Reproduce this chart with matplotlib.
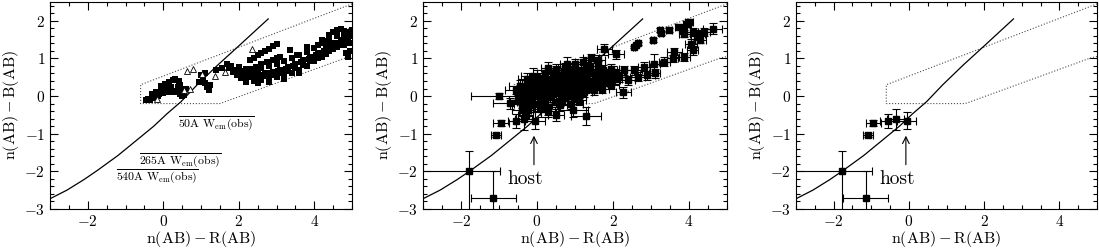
import matplotlib
matplotlib.use('Agg')
import matplotlib.pyplot as plt
from matplotlib.ticker import MultipleLocator

plt.rcParams['font.family'] = ['cmr10', 'DejaVu Serif']
plt.rcParams['mathtext.fontset'] = 'cm'
plt.rcParams['axes.formatter.use_mathtext'] = True
plt.rcParams['axes.unicode_minus'] = True

# model curve
curve_x = [-3.0, -2.55, -2.1, -1.75, -1.2, -0.7, -0.25, 0.1, 0.47, 0.9, 1.45, 2.02, 2.78]
curve_y = [-2.73, -2.5, -2.22, -1.98, -1.58, -1.17, -0.8, -0.47, -0.15, 0.3, 0.83, 1.35, 2.05]

# selection region (dotted)
box_x = [5.0, -0.6, -0.6, 1.5, 4.85, 5.0]
box_y = [2.45, 0.3, -0.2, -0.2, 1.02, 1.05]

# panel 1: model tracks (filled squares) and open triangles
p1_sq_x = [-0.4, -0.3, -0.2, -0.1, 0.0, 0.1, 0.2, 0.3, 0.4, 0.5, 0.6,
           -0.35, -0.25, -0.15, -0.45, -0.3, -0.2, -0.05, 0.05, 0.15,
           -0.05, 0.05, 0.15, 0.25, 0.3, 0.2, 0.0, 0.1,
           0.42, 0.45, 0.47, 0.5, 0.5, 0.45, 0.55, 0.4, 0.35,
           1.0, 1.05, 1.1, 1.15, 1.2, 1.1, 0.95, 1.2, 1.25, 1.05,
           1.4, 1.55, 1.7, 1.8,
           1.75, 1.85, 1.95, 2.05, 2.2, 2.4, 2.6, 2.8, 3.0, 3.2, 3.4, 3.6, 3.8, 4.0, 4.2, 4.4, 4.6, 4.8, 4.95,
           1.9, 2.1, 2.3, 2.5, 2.7, 2.9, 3.1, 3.3, 3.5, 3.7, 3.9, 4.1, 4.3, 4.5, 4.7, 4.9,
           2.0, 2.2, 2.4, 2.6, 2.8, 3.0, 3.2, 3.4, 3.6, 3.8, 4.0, 4.2, 4.4, 4.6, 4.8, 5.0,
           4.2, 4.4, 4.5, 4.6, 4.7, 4.8, 4.9, 5.0,
           2.3, 2.4, 2.5, 2.6, 2.7, 2.8, 2.9, 3.0,
           2.16, 2.3, 2.45, 2.6, 2.75, 2.9, 3.0,
           3.1, 3.35, 3.55, 3.8, 4.1, 4.35, 4.9, 4.95, 4.85,
           2.2, 2.5, 2.8, 3.2, 3.6, 2.0, 2.1,
           2.1, 2.3, 2.5, 2.7, 2.9, 3.1, 3.3, 3.5, 3.7, 3.9, 4.1, 4.3, 4.5, 4.7,
           2.05, 2.25, 2.45, 2.65, 2.85, 3.05, 3.25, 3.45, 3.65, 3.85, 4.05, 4.25, 4.45, 4.65, 4.85]
p1_sq_y = [-0.08, -0.05, 0.0, 0.05, 0.08, 0.1, 0.12, 0.14, 0.15, 0.18, 0.2,
           -0.1, -0.02, 0.0, -0.1, 0.05, 0.1, 0.15, 0.18, 0.22,
           0.28, 0.32, 0.38, 0.42, 0.45, 0.25, 0.22, 0.3,
           0.4, 0.3, 0.2, 0.1, 0.0, 0.05, 0.02, 0.25, 0.12,
           0.55, 0.45, 0.35, 0.25, 0.2, 0.6, 0.38, 0.15, 0.3, 0.5,
           0.7, 0.75, 0.85, 0.8,
           0.75, 0.65, 0.55, 0.48, 0.42, 0.4, 0.42, 0.45, 0.5, 0.55, 0.62, 0.7, 0.8, 0.92, 1.05, 1.2, 1.3, 1.35, 1.4,
           0.7, 0.62, 0.6, 0.6, 0.62, 0.65, 0.7, 0.78, 0.85, 0.95, 1.05, 1.15, 1.3, 1.42, 1.5, 1.55,
           0.78, 0.72, 0.72, 0.75, 0.8, 0.85, 0.92, 1.0, 1.08, 1.18, 1.28, 1.4, 1.52, 1.6, 1.65, 1.6,
           1.5, 1.62, 1.7, 1.75, 1.78, 1.72, 1.7, 1.75,
           0.95, 1.02, 1.08, 1.14, 1.2, 1.26, 1.32, 1.38,
           0.66, 0.72, 0.78, 0.84, 0.9, 0.95, 1.0,
           1.05, 1.22, 1.08, 1.3, 1.35, 1.45, 1.05, 1.2, 1.15,
           0.38, 0.35, 0.38, 0.45, 0.6, 0.62, 0.5,
           0.52, 0.5, 0.5, 0.52, 0.55, 0.6, 0.66, 0.74, 0.82, 0.92, 1.0, 1.12, 1.25, 1.35,
           0.56, 0.55, 0.55, 0.57, 0.6, 0.66, 0.73, 0.8, 0.9, 0.98, 1.08, 1.2, 1.32, 1.42, 1.48]
p1_tri_x = [-0.17, 0.62, 0.78, 0.71, 1.02, 1.37, 1.63, 2.35, 0.55]
p1_tri_y = [-0.08, 0.67, 0.73, 0.18, 0.58, 0.53, 0.64, 1.24, 0.15]

# panel 2: observed objects with errors
p2_x = [-0.99, -0.7, -0.45, -0.38, -0.5, -0.32, -0.55, -0.4, -0.3, -0.11, -0.24,
        -0.2, -0.15, -0.1, -0.05, 0.0, 0.05, 0.1, 0.15, 0.2, 0.25, 0.3, 0.35, 0.4, 0.45,
        0.5, 0.55, 0.6, 0.65, 0.7, 0.75, 0.8, 0.85, 0.9, 0.95, 1.0, 1.05, 1.1, 1.15,
        1.2, 1.25, 1.3, 1.35, 1.4, 1.45, 1.5, 1.55, 1.6, 1.65, 1.7, 1.75, 1.8, 1.9,
        1.95, 2.0, 2.05, 2.15, 0.2, 0.5, 0.0, -0.25, 0.9, 1.1, 0.3, 0.6, 0.1,
        0.94, 1.29, 0.5, 0.28, 0.98, 0.68, 0.5, 0.8, 0.3, 1.2,
        1.77, 2.08, 2.27, 2.55, 2.6, 2.65, 3.04, 3.26, 3.25, 3.48, 3.74, 3.95, 4.0,
        3.88, 4.1, 4.27, 4.4, 4.05, 4.1, 4.62, 3.88, 3.61, 3.57, 3.35, 3.09, 2.82,
        2.56, 2.3, 2.12, 2.39, 2.65, 1.95, 1.6, 1.42, 3.1, 2.9, 4.3, 4.2, 3.85]
p2_y = [0.0, -0.19, 0.28, 0.07, -0.1, -0.15, 0.16, -0.38, -0.5, 0.53, -0.37,
        0.2, -0.05, 0.35, 0.1, -0.2, 0.25, 0.05, 0.4, -0.1, 0.15, 0.3, 0.0, 0.45, 0.2,
        -0.15, 0.35, 0.1, 0.55, 0.25, -0.05, 0.4, 0.15, 0.6, 0.3, 0.05, 0.45, 0.2, 0.7,
        0.35, 0.1, 0.55, 0.25, 0.8, 0.4, 0.15, 0.6, 0.3, 0.5, 0.2, 0.7, 0.4, 0.55,
        0.3, 0.65, 0.45, 0.5, 0.6, 0.7, 0.5, 0.45, -0.2, -0.1, -0.3, -0.25, -0.35,
        -0.37, -0.53, -0.5, -0.41, 0.73, 0.51, 0.64, 0.85, 0.75, 0.9,
        1.24, 1.11, 0.1, 1.3, 1.35, 1.4, 1.48, 1.67, 1.76, 1.76, 1.83, 1.92, 1.97,
        1.66, 1.7, 1.66, 1.7, 1.39, 1.22, 1.79, 1.04, 1.17, 1.0, 0.91, 0.86, 0.78,
        0.69, 0.69, 0.56, 0.42, 0.51, 0.73, 0.95, 1.0, 0.6, 0.55, 1.5, 1.6, 1.75]
p2_xe = [0.75, 0.45, 0.3, 0.2, 0.25, 0.2, 0.3, 0.25, 0.2, 0.3, 0.2,
         0.2, 0.25, 0.2, 0.2, 0.25, 0.15, 0.2, 0.2, 0.2, 0.15, 0.2, 0.2, 0.25, 0.2,
         0.2, 0.2, 0.2, 0.2, 0.2, 0.25, 0.2, 0.2, 0.2, 0.2, 0.2, 0.2, 0.2, 0.25,
         0.2, 0.2, 0.2, 0.2, 0.2, 0.2, 0.2, 0.2, 0.2, 0.2, 0.2, 0.2, 0.2, 0.2,
         0.2, 0.2, 0.2, 0.2, 0.2, 0.2, 0.2, 0.25, 0.3, 0.2, 0.25, 0.2, 0.2,
         0.4, 0.4, 0.2, 0.2, 0.25, 0.2, 0.25, 0.2, 0.2, 0.2,
         0.2, 0.2, 0.2, 0.03, 0.03, 0.03, 0.05, 0.05, 0.05, 0.08, 0.1, 0.1, 0.1,
         0.15, 0.15, 0.15, 0.15, 0.15, 0.15, 0.25, 0.15, 0.2, 0.15, 0.15, 0.15, 0.15,
         0.2, 0.2, 0.2, 0.2, 0.2, 0.2, 0.2, 0.2, 0.15, 0.2, 0.15, 0.15, 0.1]
p2_ye = [0.08, 0.15, 0.15, 0.15, 0.12, 0.12, 0.1, 0.15, 0.15, 0.22, 0.15,
         0.15, 0.2, 0.12, 0.15, 0.2, 0.1, 0.12, 0.15, 0.15, 0.1, 0.12, 0.15, 0.15, 0.12,
         0.15, 0.12, 0.1, 0.15, 0.12, 0.15, 0.12, 0.1, 0.15, 0.12, 0.15, 0.12, 0.12, 0.15,
         0.12, 0.12, 0.15, 0.12, 0.15, 0.12, 0.12, 0.12, 0.12, 0.15, 0.12, 0.12, 0.12, 0.12,
         0.12, 0.15, 0.12, 0.12, 0.15, 0.15, 0.2, 0.15, 0.15, 0.15, 0.2, 0.15, 0.2,
         0.2, 0.25, 0.15, 0.15, 0.15, 0.12, 0.15, 0.2, 0.15, 0.15,
         0.15, 0.12, 0.15, 0.03, 0.03, 0.03, 0.05, 0.05, 0.05, 0.05, 0.05, 0.08, 0.08,
         0.1, 0.1, 0.1, 0.1, 0.12, 0.12, 0.15, 0.1, 0.12, 0.1, 0.12, 0.25, 0.12,
         0.12, 0.12, 0.12, 0.12, 0.12, 0.12, 0.15, 0.12, 0.12, 0.12, 0.1, 0.1, 0.08]

# panel 2: more objects in the dense core
core_x = [-0.1, 0.05, 0.15, 0.2, 0.35, 0.4, 0.45, 0.55, 0.6, 0.7, 0.75, 0.8, 0.85,
          0.95, 1.0, 1.05, 1.1, 1.15, 1.25, 1.3, 1.4, 1.45, 1.55, 1.65, 1.7, 1.85,
          0.25, 0.1, -0.05, 0.0, 0.3, 0.65, 0.9, 1.2, 1.35, 0.55, 0.75, 1.0, 1.6, 1.8,
          -0.35, -0.25, -0.15, -0.4, -0.2]
core_y = [0.0, 0.15, -0.05, 0.3, 0.2, 0.05, 0.5, 0.15, 0.4, 0.6, 0.15, 0.3, 0.5,
          0.1, 0.4, 0.6, 0.0, 0.3, 0.45, 0.2, 0.6, 0.25, 0.45, 0.35, 0.55, 0.5,
          0.45, 0.3, 0.25, 0.05, 0.1, 0.0, 0.0, 0.55, 0.65, 0.55, 0.75, 0.85, 0.8, 0.6,
          0.2, 0.0, -0.25, -0.2, 0.35]
core_xe = [0.2] * 45
core_ye = [0.13] * 45

# the objects shown in panels 2 and 3
sel_x = [-1.08, -0.95, -0.55, -0.35, -0.06, -1.78, -1.15]
sel_y = [-1.04, -0.71, -0.67, -0.62, -0.65, -2.0, -2.72]
sel_xe_lo = [0.13, 0.2, 0.22, 0.22, 0.26, 1.3, 0.6]
sel_xe_hi = [0.13, 0.2, 0.22, 0.22, 0.26, 0.8, 0.6]
sel_ye_lo = [0.06, 0.08, 0.19, 0.27, 0.22, 1.1, 0.5]
sel_ye_hi = [0.06, 0.08, 0.19, 0.27, 0.22, 0.54, 0.72]

# equivalent-width labels (panel 1)
ew_labels = ['50A', '265A', '540A']
ew_x = [0.4, -0.63, -1.26]
ew_y = [-0.71, -1.69, -2.14]

fig = plt.figure(figsize=(10.99, 2.49), dpi=100)
ax1 = fig.add_axes([0.0455, 0.161, 0.2748, 0.831])
ax2 = fig.add_axes([0.3849, 0.161, 0.2766, 0.831])
ax3 = fig.add_axes([0.7243, 0.161, 0.2739, 0.831])

ebkw = dict(fmt='s', color='k', ms=4.2, elinewidth=0.8, capsize=2.8, capthick=0.8, lw=0)

for ax in (ax1, ax2, ax3):
    ax.plot(box_x, box_y, ls=':', color='0.3', lw=0.8)
    ax.plot(curve_x, curve_y, color='k', lw=0.9)
    ax.set_xlim(-3, 5)
    ax.set_ylim(-3, 2.5)
    ax.xaxis.set_major_locator(MultipleLocator(2))
    ax.xaxis.set_minor_locator(MultipleLocator(0.5))
    ax.yaxis.set_major_locator(MultipleLocator(1))
    ax.yaxis.set_minor_locator(MultipleLocator(0.2))
    ax.tick_params(which='both', direction='in', top=True, right=True, width=0.8, labelsize=11)
    ax.tick_params(which='major', length=6)
    ax.tick_params(which='minor', length=3)
    ax.tick_params(axis='x', pad=4)
    for sp in ax.spines.values():
        sp.set_linewidth(0.8)
    ax.set_xlabel(r'$\mathrm{n(AB)-R(AB)}$', fontsize=11.5, labelpad=0)
    ax.set_ylabel(r'$\mathrm{n(AB)-B(AB)}$', fontsize=11.5, labelpad=2)

# panel 1
ax1.plot(p1_sq_x, p1_sq_y, 's', color='k', ms=4.5, mew=0)
ax1.plot(p1_tri_x, p1_tri_y, '^', mfc='white', mec='k', ms=4.5, mew=0.6)
for lab, x, y in zip(ew_labels, ew_x, ew_y):
    ax1.text(x, y, r'$\overline{\mathrm{' + lab + r'\ W_{em}(obs)}}$',
             fontsize=8.5, ha='left', va='center')

# panel 2
ax2.errorbar(p2_x, p2_y, xerr=p2_xe, yerr=p2_ye, **ebkw)
ax2.errorbar(core_x, core_y, xerr=core_xe, yerr=core_ye, **ebkw)
ax2.errorbar(sel_x, sel_y, xerr=[sel_xe_lo, sel_xe_hi], yerr=[sel_ye_lo, sel_ye_hi], **ebkw)

# panel 3
ax3.errorbar(sel_x, sel_y, xerr=[sel_xe_lo, sel_xe_hi], yerr=[sel_ye_lo, sel_ye_hi], **ebkw)

for ax in (ax2, ax3):
    ax.annotate('', xy=(-0.08, -0.98), xytext=(-0.08, -1.9),
                arrowprops=dict(arrowstyle='->', color='k', lw=0.8, mutation_scale=12))
    ax.text(-0.3, -2.2, 'host', fontsize=14, ha='center', va='center')

fig.savefig('out.png', dpi=100)
